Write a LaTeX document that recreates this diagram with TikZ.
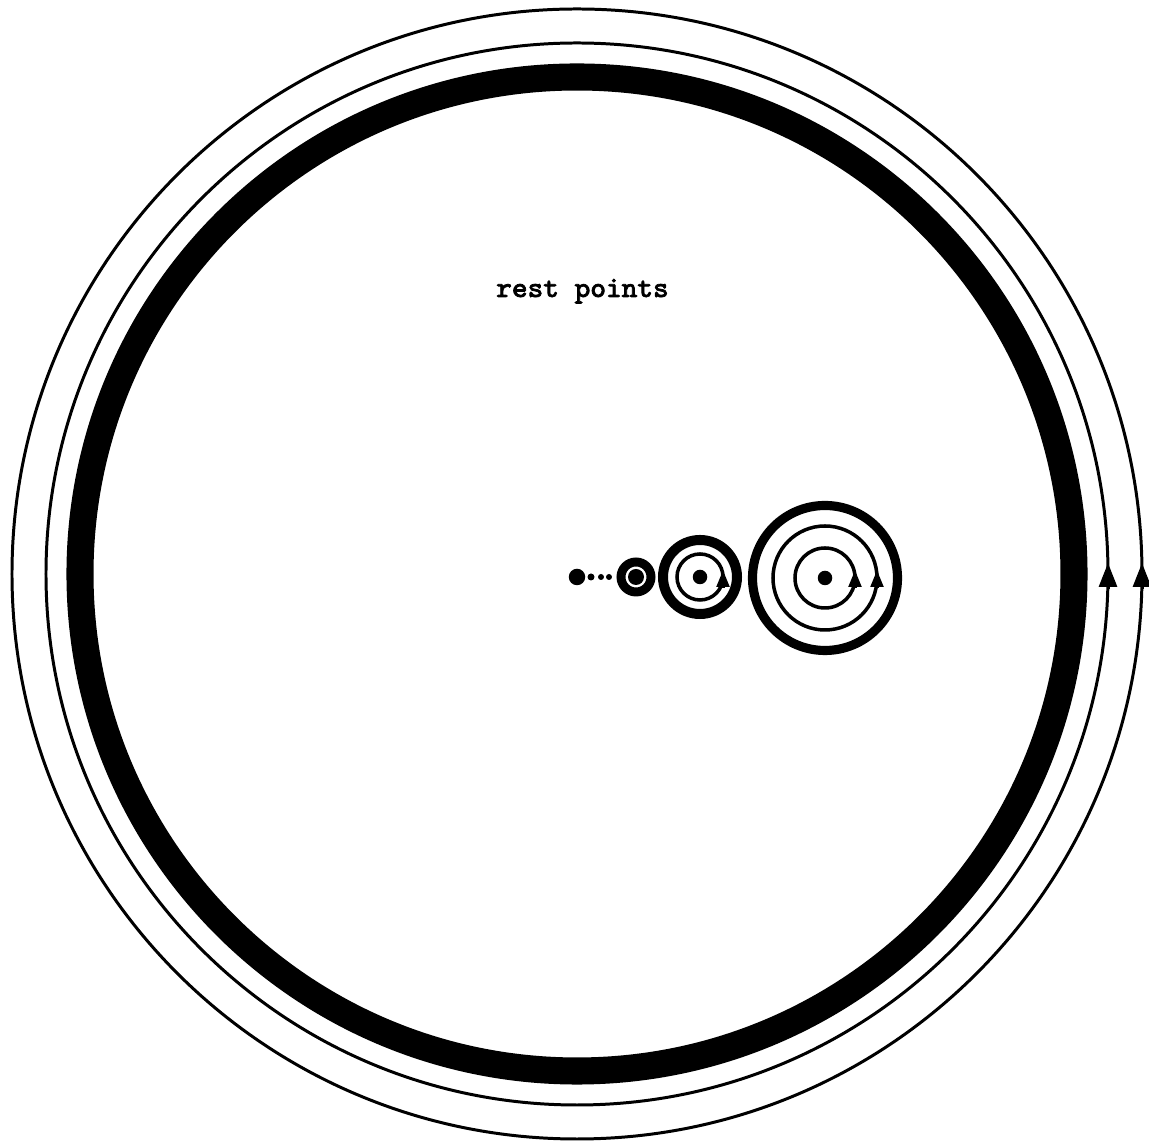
\documentclass[tikz,border=0pt]{standalone}
\usepackage{fontspec}
\setmonofont[FakeBold=2.5]{Latin Modern Mono}
\usetikzlibrary{arrows.meta}

\begin{document}
\begin{tikzpicture}[
    font=\ttfamily\fontsize{8.4}{10}\selectfont,
    orbit/.style={line width=0.85pt},
    sedang/.style={line width=1pt},
    cincin/.style={line width=#1},
    titik/.style={circle, fill, inner sep=0pt, minimum size=#1},
    panah/.style={-{Triangle[length=1.7mm, width=1.25mm]}, line width=1pt},
    panahbesar/.style={-{Triangle[length=2.4mm, width=1.8mm]}, line width=0.85pt}
  ]
    \useasboundingbox (-5.77,-5.73) rectangle (5.72,5.74);
    \coordinate (pusat) at (0,0);
    \draw[orbit] (pusat) circle (5.65);
    \draw[orbit] (pusat) circle (5.31);
    \draw[cincin=7.7pt] (pusat) circle (4.97);
    \draw[panahbesar] (5.65,-0.15) -- (5.65,0.11);
    \draw[panahbesar] (5.31,-0.15) -- (5.31,0.11);
    \node[anchor=base] (judul) at (0.055,2.77) {\bfseries rest points};

    % titik diam
    \node[titik=1.65mm] (t0) at (0,-0.03) {};
    \foreach \x/\d [count=\i] in {0.14/0.7, 0.24/0.6, 0.32/0.6}
      \node[titik=\d mm] (k\i) at (\x,-0.03) {};
    \node[titik=1.6mm] (t1) at (0.59,-0.03) {};
    \draw[cincin=2.55pt] (t1.center) circle (0.15);
    \node[titik=1.45mm] (t2) at (1.23,-0.03) {};
    \draw[cincin=2.85pt] (t2.center) circle (0.37);
    \draw[sedang] (t2.center) circle (0.23);
    \draw[panah] (1.46,-0.14) -- (1.46,0.04);
    \node[titik=1.45mm] (t3) at (2.48,-0.04) {};
    \draw[cincin=2.6pt] (t3.center) circle (0.725);
    \draw[sedang] (t3.center) circle (0.52);
    \draw[sedang] (t3.center) circle (0.30);
    \draw[panah] (2.78,-0.14) -- (2.78,0.04);
    \draw[panah] (3.00,-0.14) -- (3.00,0.04);
  \end{tikzpicture}
\end{document}
